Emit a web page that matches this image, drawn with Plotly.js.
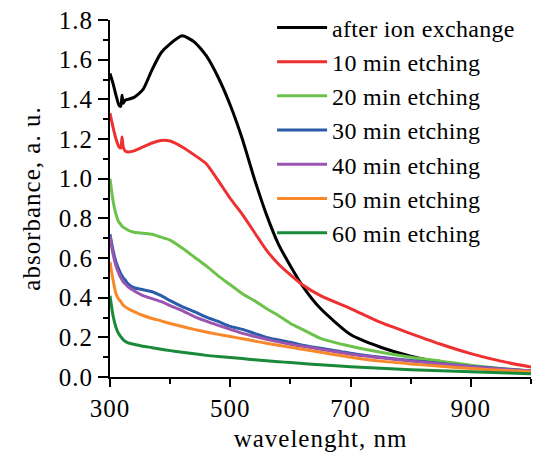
<!DOCTYPE html>
<html>
<head>
<meta charset="utf-8">
<script src="https://cdn.plot.ly/plotly-3.0.1.min.js"></script>
<style>
html,body{margin:0;padding:0;background:#fff;}
#chart text{letter-spacing:1px;}
#chart text.legendtext{letter-spacing:0.3px;}
</style>
</head>
<body>
<div id="chart"></div>
<script>
const wavelength = [300,305,310,315,318,320,322,325,330,340,355,370,385,400,420,440,460,480,500,520,540,560,580,600,620,650,700,750,800,850,900,950,1000];

const seriesNames = ["after ion exchange","10 min etching","20 min etching","30 min etching","40 min etching","50 min etching","60 min etching"];

const afterIonExchange = [1.53,1.48,1.42,1.37,1.365,1.42,1.38,1.395,1.40,1.41,1.45,1.55,1.635,1.68,1.72,1.69,1.62,1.51,1.37,1.20,1.00,0.82,0.67,0.56,0.46,0.345,0.214,0.150,0.105,0.075,0.055,0.038,0.025];
const etch10 = [1.33,1.26,1.20,1.16,1.155,1.21,1.16,1.14,1.135,1.14,1.16,1.18,1.193,1.19,1.16,1.12,1.075,0.99,0.90,0.82,0.73,0.64,0.57,0.515,0.465,0.41,0.345,0.275,0.219,0.165,0.118,0.08,0.05];
const etch20 = [1.00,0.89,0.82,0.78,0.77,0.76,0.755,0.75,0.74,0.73,0.725,0.72,0.705,0.69,0.65,0.605,0.56,0.51,0.465,0.42,0.385,0.345,0.31,0.27,0.24,0.195,0.155,0.125,0.10,0.08,0.059,0.043,0.03];
const etch30 = [0.72,0.64,0.58,0.54,0.52,0.51,0.50,0.49,0.47,0.45,0.44,0.43,0.41,0.385,0.355,0.33,0.302,0.28,0.255,0.24,0.22,0.20,0.187,0.175,0.16,0.145,0.12,0.10,0.083,0.068,0.053,0.042,0.03];
const etch40 = [0.71,0.62,0.56,0.52,0.50,0.49,0.48,0.47,0.455,0.435,0.41,0.395,0.38,0.36,0.335,0.305,0.282,0.26,0.24,0.22,0.205,0.19,0.177,0.165,0.155,0.14,0.115,0.097,0.08,0.066,0.052,0.04,0.03];
const etch50 = [0.58,0.49,0.42,0.39,0.38,0.37,0.362,0.355,0.345,0.33,0.31,0.295,0.283,0.27,0.255,0.24,0.227,0.215,0.204,0.193,0.182,0.17,0.16,0.15,0.14,0.125,0.10,0.08,0.066,0.054,0.043,0.034,0.027];
const etch60 = [0.41,0.31,0.25,0.215,0.203,0.195,0.188,0.18,0.172,0.165,0.155,0.148,0.14,0.133,0.125,0.117,0.109,0.103,0.098,0.093,0.087,0.082,0.077,0.073,0.068,0.062,0.052,0.044,0.037,0.031,0.026,0.021,0.017];

const seriesValues = [afterIonExchange, etch10, etch20, etch30, etch40, etch50, etch60];
const seriesColors = ["#000000","#ee3030","#6cc24a","#2a5caa","#9b55b0","#f7892b","#1a8a3a"];

const FONT = "Liberation Serif";

const traces = seriesNames.map((name, i) => ({
  x: wavelength,
  y: seriesValues[i],
  name: name,
  type: "scatter",
  mode: "lines",
  line: {color: seriesColors[i], width: 3, shape: "spline", smoothing: 0.6}
}));

const layout = {
  width: 554,
  height: 459,
  margin: {l: 110, r: 23, t: 20, b: 82, autoexpand: false},
  paper_bgcolor: "#ffffff",
  plot_bgcolor: "#ffffff",
  font: {family: FONT, size: 25, color: "#000000"},
  showlegend: true,
  legend: {
    x: 0.385, y: 1.041, xanchor: "left", yanchor: "top",
    bgcolor: "rgba(0,0,0,0)",
    font: {family: FONT, size: 24, color: "#000000"},
    itemwidth: 50,
    tracegroupgap: 0,
    maxheight: 420
  },
  xaxis: {
    range: [300, 1000],
    tick0: 300, dtick: 200,
    showline: true, linecolor: "#000000", linewidth: 2,
    ticks: "outside", ticklen: 8, tickwidth: 2, tickcolor: "#000000",
    minor: {dtick: 100, tick0: 300, ticks: "outside", ticklen: 5, tickwidth: 2, tickcolor: "#000000"},
    showgrid: false, zeroline: false,
    tickfont: {family: FONT, size: 25},
    title: {text: "wavelenght, nm", font: {family: FONT, size: 25}, standoff: 8}
  },
  yaxis: {
    range: [0, 1.8],
    tick0: 0, dtick: 0.2, tickformat: ".1f",
    showline: true, linecolor: "#000000", linewidth: 2,
    ticks: "outside", ticklen: 10, tickwidth: 2, tickcolor: "#000000",
    minor: {dtick: 0.1, ticks: "outside", ticklen: 5, tickwidth: 2, tickcolor: "#000000"},
    showgrid: false, zeroline: false,
    tickfont: {family: FONT, size: 25},
    title: {text: "absorbance, a. u.", font: {family: FONT, size: 25}, standoff: 14}
  }
};

Plotly.newPlot("chart", traces, layout, {displayModeBar: false, staticPlot: true});
</script>
</body>
</html>
